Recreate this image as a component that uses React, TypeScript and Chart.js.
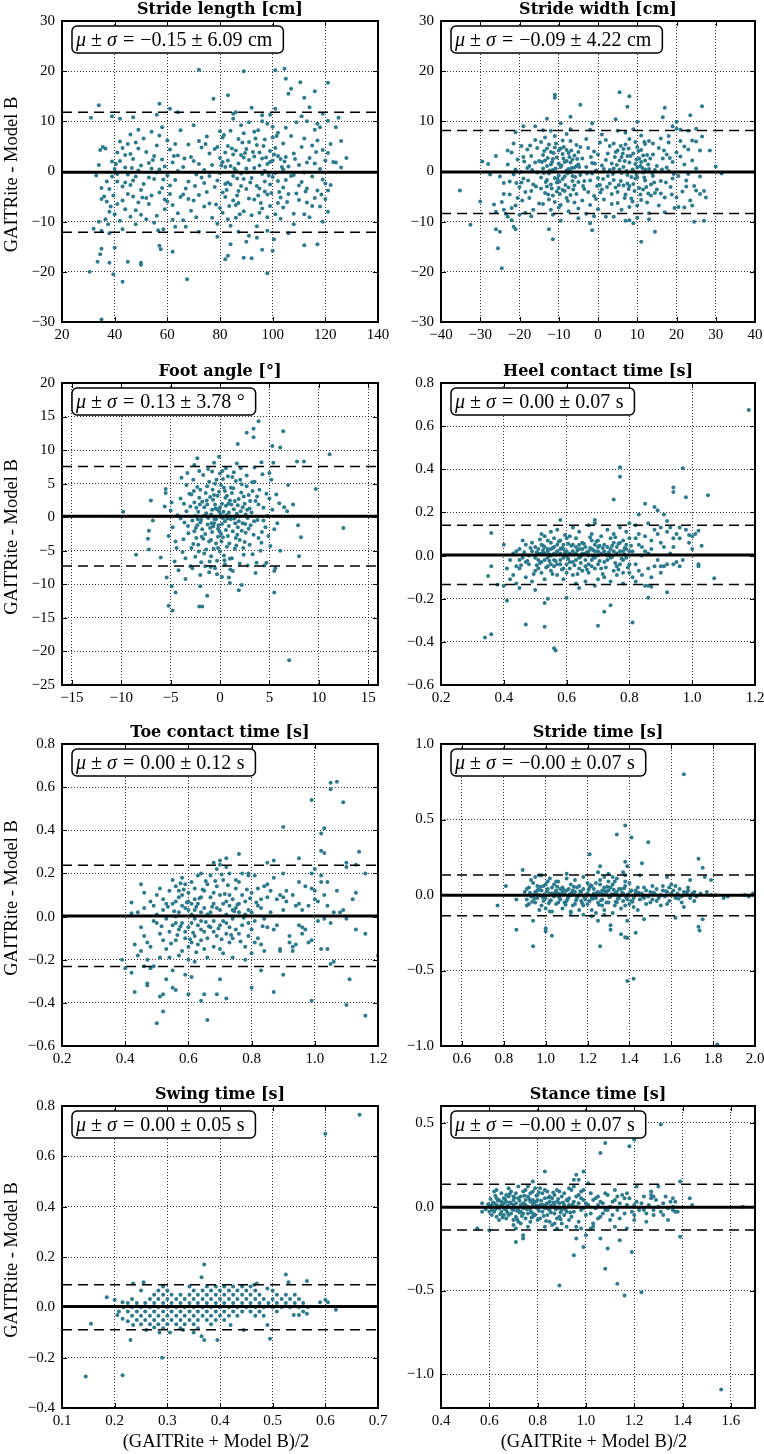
import React, { useEffect, useRef } from "react";
import { Chart, registerables } from "chart.js";
Chart.register(...registerables);

// ---------------- DATA ----------------
const panelTitles = [
  "Stride length [cm]", "Stride width [cm]", "Foot angle [°]", "Heel contact time [s]",
  "Toe contact time [s]", "Stride time [s]", "Swing time [s]", "Stance time [s]",
];
const xMin = [20, -40, -16, 0.2, 0.2, 0.5, 0.1, 0.4];
const xMax = [140, 40, 16, 1.2, 1.2, 2.0, 0.7, 1.7];
const yMin = [-30, -30, -25, -0.6, -0.6, -1.0, -0.4, -1.2];
const yMax = [30, 30, 20, 0.8, 0.8, 1.0, 0.8, 0.6];
const xTickValues = [
  [20, 40, 60, 80, 100, 120, 140],
  [-40, -30, -20, -10, 0, 10, 20, 30, 40],
  [-15, -10, -5, 0, 5, 10, 15],
  [0.2, 0.4, 0.6, 0.8, 1.0, 1.2],
  [0.2, 0.4, 0.6, 0.8, 1.0, 1.2],
  [0.6, 0.8, 1.0, 1.2, 1.4, 1.6, 1.8, 2.0],
  [0.1, 0.2, 0.3, 0.4, 0.5, 0.6, 0.7],
  [0.4, 0.6, 0.8, 1.0, 1.2, 1.4, 1.6],
];
const yTickValues = [
  [-30, -20, -10, 0, 10, 20, 30],
  [-30, -20, -10, 0, 10, 20, 30],
  [-25, -20, -15, -10, -5, 0, 5, 10, 15, 20],
  [-0.6, -0.4, -0.2, 0, 0.2, 0.4, 0.6, 0.8],
  [-0.6, -0.4, -0.2, 0, 0.2, 0.4, 0.6, 0.8],
  [-1.0, -0.5, 0, 0.5, 1.0],
  [-0.4, -0.2, 0, 0.2, 0.4, 0.6, 0.8],
  [-1.0, -0.5, 0, 0.5],
];
const tickDecimals = [0, 0, 0, 1, 1, 1, 1, 1];
const meanDiff = [-0.15, -0.09, 0.13, 0.003, 0.003, -0.002, 0.003, -0.004];
const upperLoA = [11.79, 8.18, 7.54, 0.14, 0.238, 0.132, 0.09, 0.133];
const lowerLoA = [-12.09, -8.36, -7.28, -0.134, -0.232, -0.137, -0.089, -0.139];
const meanLabel = ["−0.15", "−0.09", "0.13", "0.00", "0.00", "−0.00", "0.00", "−0.00"];
const sdLabel = ["6.09", "4.22", "3.78", "0.07", "0.12", "0.07", "0.05", "0.07"];
const unitLabel = ["cm", "cm", "°", "s", "s", "s", "s", "s"];

const strideLengthPts = [
  [72,20.3],[89,20],[101,20.2],[104.5,20.5],[105,18.5],[110.5,17.8],[121,17.7],[107,16.5],[106,15.5],[116,16],[112,14.7],[77.5,14.5],[83,15.2],[34,13.2],[57,13.5],[61,12.5],[31,10.7],[125,10.7],[114,12.8],[92,12.7],[101,12.5],[119,11.5],[86,11.8],[96,11.2],[111,11],[64,11.8],[47,10.8],[39,11],[42,10.5],[56,11.3],[85,11.5],[99,11.3],[121,10.1],[124,8.8],[126,6.1],[128,2.7],[126,0.8],[124,1.8],[117,9.5],[113,10],
  [35,-29.5],[43,-22],[67.5,-21.5],[98,-20.3],[30.5,-20],[39.5,-20.5],[33.5,-18],[38,-18.2],[45,-18],[50,-18.6],[50,-18.2],[34.5,-16.5],[35,-15.4],[40,-15.2],[57,-14.8],[57.5,-15.5],[62,-16],[82,-17.5],[83,-16.8],[89,-17.2],[92,-17.3],[96,-15.6],[100,-15.8],[112,-14.7],[117,-14.5],[84,-14.5],[90,-14],[32,-11.4],[35,-11.8],[38,-12.3],[43,-11.5],[56.5,-11.7],[58.5,-11.5],[72,-12],[79,-13],[91,-12.8],[94,-13.2],[100.5,-13.5],[106,-12.3],[63,-11],[87,-12],[98,-11.8],[108,-10.5],[119,-10],[121,-8],[120,-5.5],
  [33,-0.8],[34,1.3],[34.5,4.3],[35.5,4.9],[36.5,4.6],[35,-3.3],[36,-5],[37,-6],[38,-8],[36.5,-9.5],[37.5,-10.5],[34,-10],[35,-5.5],[37,-2],[38,-3.5],[39,-1],[39,2],[38.5,-7],[39.5,-4.8],[40,-8.5],[40.5,1.5],[41,-2],
  [41,-0.5],[42,2.1],[43,-3],[44,0.8],[45,-4.5],[46,3.5],[47,-1.8],[48,5.8],[49,-6.2],[44,-7.5],[42,-9.8],[46,-9],[48,-10.5],[45,5.5],[47,2.5],[49,0.2],[43,-5.8],[41,-6.5],[44,3.3],[50,-3.7],[49,4.6],[46,-2.7],[42,6],[48,-7.7],[50,1.2],[45,-0.6],[47,-5],[43,4.7],[40,0.5],[41,3.8],[49,8.3],[46,7.4],[44,-2.2],[48,-1],[50,-8.6],
  [51,-2.5],[52,3.9],[53,-6.5],[54,0.6],[55,-1.5],[56,5.2],[57,-4.2],[58,2.4],[59,-7.5],[60,-0.8],[61,4.4],[52,-9.5],[54,-4.8],[56,-8.8],[58,-3.3],[60,-6],[51,6.6],[53,1.7],[55,3.1],[57,7.2],[59,1],[61,-2.8],[62,-9.6],[53,-1.2],[55,-10.2],[58,8.8],[60,6.2],[62,1.8],[52,-5.3],[56,-0.2],[54,7.9],[59,-5.6],[61,-4.5],[57,0.4],
  [63,-1.7],[64,3.2],[65,-5.1],[66,0.9],[67,-3.4],[68,5.4],[69,-7.8],[70,2.1],[71,-0.6],[72,-4.7],[73,4.8],[74,-2.3],[75,7],[76,-6.4],[77,1.3],[64,-8.3],[66,-9.7],[68,-2],[70,-5.8],[72,6.1],[74,0.3],[76,3.6],[78,-3.1],[63,5.5],[65,8.2],[67,-11],[69,2.9],[71,-9.1],[73,-1.2],[75,-4.1],[77,-9.2],[78,4.5],[66,-4.6],[70,9.2],[74,-7],[76,-0.9],[64,0.1],[68,-5.5],[72,1.5],[62,-6.7],
  [79,-1.8],[80,2.7],[81,-4.2],[82,0.9],[83,5.1],[84,-2.6],[85,3.4],[86,-6.7],[87,1.6],[88,-0.4],[89,7.6],[90,-3.5],[91,2.3],[79,4.9],[80,-7.3],[81,6.8],[82,-5.1],[83,-9.5],[84,1.1],[85,-0.9],[86,4.2],[87,-3.9],[88,9.2],[89,-7.9],[90,0.6],[91,5.9],[92,-1.3],[79,-10.4],[81,1.9],[83,-2.2],[85,-5.8],[87,6.5],[89,2.8],[91,-5.4],[80,-0.3],[82,3.8],[84,8.1],[86,0.2],[88,-2.9],[90,4.5],[92,-8.7],[84,-10.8],[86,-9.2],[88,3.3],[80,8],[82,-2.5],[87,-6.3],[89,-1.5],[91,9.8],[85,10.5],[83,2.2],[81,-8.2],
  [93,0.7],[94,-2.9],[95,3.8],[96,-0.5],[97,6.4],[98,-4.6],[99,1.9],[100,-1.1],[101,4.7],[102,-6.3],[103,2.5],[104,-3.2],[105,8.7],[93,-5.6],[94,5.3],[95,-8.2],[96,2.6],[97,-2],[98,9.5],[99,-6.9],[100,6.8],[101,-0.3],[102,3.1],[103,-9.4],[104,0.4],[105,-1.7],[93,7.9],[95,1.2],[97,-4],[99,4.1],[101,-8.5],[103,-5.2],[105,2.9],[94,-10.9],[96,-7.4],[98,1.5],[100,8.9],[102,-1.9],[104,5.6],[106,-4.5],[96,10],[99,-2.6],[102,7.7],[104,-7.2],[100,2.2],[97,0.1],[95,-3.4],[106,1],[93,3],[98,-9.1],
  [107,-0.9],[108,3.6],[109,-4.4],[110,1.3],[111,-2.1],[112,6.6],[113,-6.2],[114,2.7],[115,-1],[116,8.3],[117,-3.8],[118,0.5],[119,4.3],[120,-2.4],[121,3.7],[107,7.1],[108,-8.4],[110,-5.7],[112,-0.2],[114,-9.1],[116,-5.3],[118,-7],[120,2.2],[109,9.8],[111,4.9],[113,1.8],[115,5.2],[117,6.2],[119,-1.6],[122,5.5],[110,-2.8],[113,-3.4],[116,1.6],[108,-0.7],[115,-6.9],[121,-3.8],[123,1.9],[122,-2.7],[118,8.8],[112,-8.5],
  [80.5,1.2],[82.5,-3.7],[84.5,4.6],[86.5,-1.4],[88.5,5.8],[90.5,-0.2],[92.5,3.9],[94.5,-4.8],[96.5,5.1],[98.5,-0.8],[100.5,3.4],[102.5,-4.1],[104.5,2],[81.5,7.3],[83.5,-6.9],[85.5,0.6],[87.5,-8.5],[89.5,3.7],[91.5,-2.2],[93.5,6.6],[95.5,-6.3],[97.5,2.8],[99.5,-4.3],[101.5,7.1],[103.5,0.9],[105.5,-6.1],[66.5,2.6],[70.5,-2.9],[74.5,5.5],[58.5,-1.6],[62.5,3.1],[46.5,0.7],[50.5,-5.2],[54.5,2.3],[78.5,-6.6],[108.5,2.5],[112.5,-4],[116.5,3.9],[118.5,-4.6],[86.5,-4.8],[94.5,8.2],
];

const strideWidthPts = [
  [-35.2,-3.8],[-32.5,-10.6],[-29.5,2],[-28,1.5],[-30,-6],[-27.5,-0.6],[-26.5,-6.6],[-26,-11.5],[-25,-12],[-25.5,-15.3],[-24.5,-19.3],[-21.5,-11],[-21,-11.5],[-23,-9],[-12.5,-11.5],[-11.5,-13.5],[-11,15.3],[-11,14.7],[-4.5,13.3],[5.5,15.8],[8,15],[7.5,12.9],[-7,10.9],[-13,10.5],[4.5,10.4],[10,9.9],[16.5,10.8],[17,12.7],[20,9.9],[20,8.5],[23.5,11.2],[26.5,13],[26.5,7],[30,1],[31.5,-0.4],[27.5,-5.2],[24.5,-10],[27,-9.8],[14.5,-12],[11,-14],[9,-10.3],[8,-9.7],[-1.5,-11.7],[-2,-10.3],[-19,9],[-21,7.8],[-1.5,9.6],[-16,9],[-9.5,-9.8],[-5,-9.3],[4,-9],[13,-9.5],[22.5,-3],[28.5,4.2],[25,6],[-22,-9.7],[-24,-7.6],
  [-24,-2.3],[-23,1.4],[-22.5,-4.6],[-22,3.8],[-21.5,-0.6],[-21,-6.8],[-20.5,2.4],[-20,-3.1],[-19.5,5.1],[-19,-1.4],[-18.5,-8.2],[-18,0.7],[-17.5,-5.3],[-17,3.1],[-16.5,-2.6],[-16,6.3],[-15.5,-0.2],[-15,-6.4],[-24.5,-6.1],[-23.5,-8.4],[-22,-7.3],[-20,-8.6],[-18,4.4],[-17,-3.9],[-16,1.8],[-19,2.9],[-21,0.4],[-23,4.2],[-25,-1],[-26,3.1],[-15.5,4.7],[-16.5,-7.6],[-18.5,-4.1],[-20.5,-5.3],[-22.5,-2],[-17.5,1.1],[-19.5,-2.2],[-21.5,5.6],[-15,2.1],[-17,-8.9],[-24,-4.5],[-26,-8],
  [-14.5,-1.2],[-14,3.3],[-13.5,-4.3],[-13,1.1],[-12.5,5.4],[-12,-2.6],[-11.5,0.3],[-11,-6.1],[-10.5,2.8],[-10,-0.8],[-9.5,4.6],[-9,-3.7],[-8.5,1.9],[-8,-5.3],[-7.5,0.5],[-7,6.1],[-6.5,-1.9],[-6,3.2],[-5.5,-4.5],[-5,1.4],[-14.5,5.9],[-14,-6.5],[-13.5,2.2],[-13,-3],[-12.5,-0.4],[-12,3.9],[-11.5,-4.8],[-11,7.1],[-10.5,-2.2],[-10,1.6],[-9.5,-6.7],[-9,3.5],[-8.5,-1],[-8,4.3],[-7.5,-3.2],[-7,-0.1],[-6.5,2.4],[-6,-6.2],[-5.5,5.3],[-5,-2.1],[-14,0.6],[-13,-1.7],[-12,1.4],[-11,-1.3],[-10,4.2],[-9,-1.5],[-8,2.1],[-7,-4.7],[-6,0.8],[-5,3.9],[-13.5,6.8],[-12.5,-5.6],[-11.5,2.5],[-10.5,-4],[-9.5,0.9],[-8.5,-3.9],[-7.5,3.7],[-6.5,-0.9],[-5.5,1.1],[-14.5,-3.4],[-13,4.6],[-11,4.8],[-10,-3.3],[-8,0.2],[-7,1.8],[-6,-2.8],[-12,-7.6],[-9,6.2],[-10,-7.2],[-7,8.4],[-8,7.5],[-14,8.2],[-12,8.1],[-9.5,9.6],[-5,-7.4],[-7.5,-7.9],[-11.5,-8.6],
  [-4.5,-0.7],[-4,2.6],[-3.5,-3.5],[-3,0.9],[-2.5,4.7],[-2,-1.8],[-1.5,1.7],[-1,-4.9],[-0.5,0.2],[0,3.4],[0.5,-2.7],[1,1.2],[1.5,-5.6],[2,2.3],[2.5,-0.9],[3,5.1],[-4,-5.8],[-3,6.5],[-2,-6.7],[-1,4],[0,-1.3],[1,-3.6],[2,6.3],[3,-2.4],[-4.5,4.9],[-3.5,-1.9],[-2.5,-4.1],[-1.5,-0.4],[-0.5,-5.5],[0.5,5.8],[1.5,0.5],[2.5,3.6],[-3,-8.4],[-1,-8.9],[0,-7.5],[2,-9],[-2,8.3],[1,7.4],[3.5,-4.5],[3,0.3],
  [3.5,1.6],[4,-1.7],[4.5,3.9],[5,-4.1],[5.5,0.4],[6,2.9],[6.5,-2.8],[7,5.4],[7.5,-0.7],[8,1.8],[8.5,-5.4],[9,3.6],[9.5,-1.4],[10,0.8],[10.5,-3.3],[11,4.3],[11.5,-0.2],[12,2.2],[12.5,-6.2],[13,0.5],[13.5,-2.6],[14,3.4],[14.5,-4.3],[15,1.1],[4,5.6],[5,-6.3],[6,-0.3],[7,-4.6],[8,6.5],[9,-2.5],[10,4.9],[11,-5.7],[12,-1.8],[13,6.1],[14,-0.9],[4.5,-3.2],[5.5,2.2],[6.5,0.9],[7.5,3.1],[8.5,-1.1],[9.5,1.5],[10.5,2.6],[11.5,-3.6],[12.5,3.3],[13.5,-4.8],[14.5,0.3],[6,-7.6],[8,-7.1],[10,-6.8],[12,5.5],[7,7.7],[9,8.4],[11,7.2],[13,-8.3],[5,8.1],[10,-9.2],[7,-9.8],[15,-3.6],[3.5,-6.5],[8,-2.9],[9,0.1],[10,-1.2],[6.5,4.5],[11,1.9],[12,0.4],[14,5.6],[7.5,-2.4],[9.5,5.9],[11.5,3.2],[5,4.2],[4,0.6],
  [15.5,4.7],[16,-1.9],[16.5,2.6],[17,-5.2],[17.5,0.8],[18,5.8],[18.5,-3.1],[19,1.9],[19.5,-7.3],[20,3.8],[20.5,-0.9],[21,6.1],[21.5,-4],[22,1.4],[22.5,-1.8],[23,4.4],[23.5,-5.8],[24,2.2],[24.5,-2.9],[25,0.6],[26,4.2],[16,6.6],[17,-8.1],[18,0.1],[19,-1.4],[20,-5.2],[21,3],[22,-7.2],[23,-0.5],[25,-3.8],[26,-1],[24,6.2],[25,8.5],[21,8.3],[18,7.1],[16,-4.4],[22,5],[19,9],[15.5,-6.8],[17.5,3.4],[20.5,-7.1],[23,8.1],[24,-6.8],[26,-4.5],[27,-3.9],
  [-13.8,-0.3],[-12.8,2.7],[-11.8,-3.4],[-10.8,0.6],[-9.8,-2],[-8.8,2.6],[-7.8,-0.4],[-6.8,4.2],[-5.8,-1.1],[-4.8,0.9],[-13.3,-2.1],[-12.3,0.2],[-11.3,3.7],[-10.3,-1.5],[-9.3,1.2],[-8.3,-2.7],[-7.3,2.9],[-6.3,-3.6],[-5.3,2.5],[-14.3,1.9],[-13.7,4.1],[-12.7,-4.6],[-11.7,1.9],[-10.7,5.6],[-9.7,-4.5],[-8.7,4.9],[-7.7,-5.9],[-6.7,0.7],[-15.8,-3],[-16.8,0.3],[-17.8,-1.8],[-18.8,2],[-19.8,-0.1],[-20.8,-2.3],[-17.3,5.2],[-19.3,-5.8],
  [3.8,-0.5],[4.8,1.3],[5.8,-1.9],[6.8,2.1],[7.8,-3.5],[8.8,0.4],[9.8,-0.6],[10.8,1.1],[11.8,-1.2],[12.8,1.4],[13.8,-0.3],[4.3,2.9],[5.3,-2.7],[6.3,3.6],[7.3,0.1],[8.3,3.1],[9.3,-3.9],[10.3,4.1],[11.3,0.7],[12.3,-3.1],[13.3,2.6],[14.3,-2.2],[5.8,5.1],[7.8,4.6],[9.8,2.4],[11.8,5.9],[6.8,-5.3],[8.8,-6],[10.8,-4.6],[12.8,-4.4],[16.3,0.4],[17.3,-2.2],[18.3,2.7],[19.3,-0.5],[16.8,4.2],[18.8,-4.6],[-2.8,-0.4],[-0.8,1.6],[1.3,-1.5],[-1.8,2.9],[0.6,-4.2],[2.3,-3.1],[-3.8,-2.9],[-0.2,-2.9],
];

const footAnglePts = [
  [-9.8,0.8],[-7,2.5],[-6.8,-0.5],[-7.2,-2],[-7.3,-3.2],[-8.5,-5.6],[-7.2,-4.8],[-5.5,4.2],[-5.5,3.6],[-5.2,-13.2],[-4.8,-13.9],[-4.9,-10.3],[-4.5,-11.2],[-5.4,-9],[-2.1,-13.3],[-1.8,-13.3],[-1.3,-11.7],[-2,-10.3],[1.9,-10.9],[2.2,-10.1],[1,-9.8],[7,-21.3],[5.5,-11.2],[5.5,-8],[5.6,-7.6],[8,-5.8],[8.2,-3],[7.9,-1.2],[12.5,-1.6],[9.7,4.2],[11.1,9.4],[7.8,8.3],[8.5,8.3],[6.1,10.4],[6.4,12.8],[5.3,10.6],[3.9,14.3],[3.4,13.2],[2.7,12.6],[3.4,11.9],[1.8,10.9],[5.4,8.1],[6.9,4.8],[7.4,1.9],[6.5,1.5],[6.8,0.9],[6.1,-5],[-2.3,8.8],[-0.1,9],[0.9,-9],[-3.5,-9.2],[4.7,-6.8],[-6,-6],[5,6.6],
  [-5,1],[-4.8,-1.5],[-4.5,-3.6],[-4.3,0.3],[-4,2.8],[-3.8,-5.2],[-3.6,-0.8],[-3.4,4.8],[-3.2,-2.4],[-3,1.6],[-4.6,-6.6],[-4.2,-7.9],[-3.9,5.9],[-3.5,-6.1],[-3.1,3.5],[-5.2,-2.8],[-4.4,-4.6],[-3.7,-3.3],[-3.3,6.6],[-3,-7.3],[-5.6,1.6],[-4.9,2.2],[-4,-0.2],[-3.4,0.9],[-2.9,-4.6],
  [-2.8,-0.5],[-2.6,2.2],[-2.4,-3.1],[-2.2,0.8],[-2,4.1],[-1.8,-1.8],[-1.6,1.5],[-1.4,-4.8],[-1.2,-0.1],[-1,3],[-2.7,5.6],[-2.5,-5.9],[-2.3,-1.2],[-2.1,2.9],[-1.9,-6.7],[-1.7,6.3],[-1.5,-2.5],[-1.3,4.6],[-1.1,-3.6],[-2.9,3.4],[-2.6,-2.1],[-2.4,1.4],[-2.2,-4.1],[-2,-0.8],[-1.8,2.3],[-1.6,-5.4],[-1.4,0.6],[-1.2,7.2],[-1,-1.6],[-2.8,-7.6],[-2.1,6.9],[-1.5,-7.3],[-1.1,5.3],[-2.5,0.2],[-1.7,-3.2],[-1.3,1.9],[-2.3,4.5],[-1.9,-0.4],[-2.7,-4],[-1.1,-8.2],[-2,-8.6],[-2.6,7.8],
  [-0.9,0.4],[-0.8,-2.2],[-0.7,2.6],[-0.6,-0.9],[-0.5,5],[-0.4,-3.9],[-0.3,1.2],[-0.2,-1.7],[-0.1,3.8],[0,-5.1],[0.1,0.1],[0.2,2],[0.3,-3],[0.4,4.4],[0.5,-0.6],[0.6,1.7],[0.7,-4.4],[0.8,6.1],[0.9,-1.3],[1,2.5],[-0.9,-5.8],[-0.7,-1.4],[-0.5,1.9],[-0.3,-6.5],[-0.1,0.9],[0.1,-2.5],[0.3,5.7],[0.5,-7],[0.7,3.2],[0.9,0.7],[-0.8,6.8],[-0.6,3.3],[-0.4,-0.3],[-0.2,-4.6],[0,1.5],[0.2,-1],[0.4,-5.7],[0.6,7.3],[0.8,-2.8],[-0.9,-3.4],[-0.5,-7.6],[0,6.5],[0.5,3.9],[1,-6.2],[-0.3,-8.5],[0.2,-8.9],[-0.6,8.1],[0.1,4.8],[-0.2,-2.9],[0.6,-1.9],[-0.8,1.1],[0.3,-0.1],
  [1.1,-0.3],[1.2,3.6],[1.3,-2.1],[1.4,1.2],[1.5,-4.7],[1.6,5.4],[1.7,0.5],[1.8,-1.5],[1.9,2.7],[2,-3.4],[2.1,0.9],[2.2,4.9],[2.3,-0.9],[2.4,-5.6],[2.5,2],[2.6,-2.3],[2.7,6.2],[2.8,-0.1],[2.9,3.3],[3,-4.1],[1.2,-6.1],[1.4,6.7],[1.6,-3.1],[1.8,1.8],[2,-6.9],[2.2,-2],[2.4,3.1],[2.6,0.4],[2.8,-7.2],[3,1.3],[1.3,-8],[1.7,8],[2.1,7.3],[2.5,-3.7],[2.9,-1.7],[1.5,2.4],[1.9,-0.6],[2.3,1.5],[1.1,4.4],[2.7,4.6],
  [3.2,0.7],[3.4,-2.6],[3.6,2.4],[3.8,-0.4],[4,4.1],[4.2,-3.8],[4.4,1.4],[4.6,-1.5],[4.8,0.2],[5,2.8],[3.3,-5.5],[3.5,5.3],[3.7,-6.8],[3.9,1.9],[4.1,-5],[4.3,6.4],[4.5,-7.2],[4.7,3.5],[4.9,-2.8],[3.1,-1.2],[3.3,3.9],[3.5,7.4],[3.9,-3.1],[4.4,-0.5],[5.1,-4.3],[5.3,1.1],[5.5,-1.8],[5.7,3.4],[5.2,5.6],[3.6,-8.3],[4.2,8.2],[5.8,-0.9],[6,2.1],
  [-0.85,-0.9],[-0.45,1.3],[-0.05,-2.1],[0.35,0.8],[0.75,-0.2],[1.15,1.9],[1.55,-0.9],[1.95,0.1],[-1.25,-1.1],[-1.65,0.2],[-2.05,1.9],[-2.45,-1.6],[-0.65,-4.7],[-0.25,3.2],[0.15,-3.6],[0.55,2.9],[0.95,-3.9],[1.35,4.3],[1.75,-2.6],[2.15,3.7],[2.55,-1],[-1.45,3.6],[-1.85,-2.9],[-2.25,-0.3],[-0.35,5.6],[0.45,-6.4],[1.25,6],[-1.05,-6.6],[2.35,-4.6],[-2.65,3.9],[3.05,2.4],[3.45,-0.6],[2.75,1.1],[0.05,0.4],[-0.55,-0.3],[0.65,0.3],[1.45,-0.2],[-0.15,-1.2],[0.85,2],[-1.35,2.5],[1.65,-4.2],[-0.75,4.1],[2.05,5.6],[0.25,6.9],[-0.95,-7.4],[1.05,-7.8],[3.25,5.2],[-3.25,-1.3],[-3.65,2],[4.25,-2.2],[3.75,3.1],[-2.15,-5.1],
];

const heelContactPts = [
  [1.18,0.675],[0.77,0.41],[0.77,0.365],[0.75,0.26],[0.97,0.405],[0.94,0.315],[0.94,0.295],[1.05,0.28],[0.98,0.27],[0.85,0.24],[0.88,0.225],[0.89,0.21],[0.91,0.19],[0.92,0.16],[0.83,0.19],[0.58,0.165],[0.69,0.165],[0.36,0.105],[0.4,0.05],[0.36,-0.05],[0.35,-0.095],[0.34,-0.38],[0.36,-0.365],[0.41,-0.21],[0.4,-0.14],[0.38,-0.135],[0.47,-0.32],[0.53,-0.33],[0.56,-0.43],[0.565,-0.44],[0.53,-0.22],[0.54,-0.2],[0.6,-0.195],[0.7,-0.325],[0.72,-0.26],[0.74,-0.23],[0.81,-0.31],[0.86,-0.195],[0.86,-0.14],[0.87,-0.145],[0.92,-0.17],[1.07,-0.105],[1.02,-0.05],[1.02,-0.04],[0.94,-0.04],[1.03,0.045],[1.02,0.115],[1.01,0.1],[0.99,0.095],[0.45,-0.15],[0.5,-0.16],[0.64,-0.15],[0.69,-0.14],[0.78,-0.08],[0.82,-0.12],[0.9,-0.05],[0.96,-0.05],[1.0,0.03],
  [0.42,-0.02],[0.43,0.01],[0.44,-0.05],[0.45,0.03],[0.46,-0.01],[0.47,0.05],[0.48,-0.04],[0.49,0.02],[0.5,-0.07],[0.43,-0.09],[0.45,-0.06],[0.47,-0.03],[0.49,0.06],[0.46,0.07],[0.44,0.02],[0.48,0],[0.5,0.04],[0.42,-0.11],[0.44,-0.13],[0.47,-0.1],[0.49,-0.12],[0.41,-0.06],[0.45,-0.02],[0.5,-0.01],
  [0.51,0.01],[0.52,-0.03],[0.53,0.04],[0.54,-0.01],[0.55,0.06],[0.56,-0.05],[0.57,0.02],[0.58,-0.02],[0.59,0.05],[0.6,-0.04],[0.51,-0.06],[0.52,0.05],[0.53,-0.02],[0.54,0.03],[0.55,-0.07],[0.56,0.01],[0.57,-0.04],[0.58,0.07],[0.59,-0.01],[0.6,0.02],[0.51,0.03],[0.52,-0.08],[0.53,0.09],[0.54,-0.05],[0.55,0],[0.56,0.04],[0.57,-0.09],[0.58,0.03],[0.59,-0.06],[0.6,0.08],[0.52,0.01],[0.54,0.07],[0.56,-0.02],[0.58,-0.04],[0.6,0],[0.53,-0.11],[0.55,0.11],[0.57,0.12],[0.59,-0.11],[0.51,-0.02],[0.55,-0.04],[0.57,0.05],[0.53,0.01],[0.6,-0.08],[0.58,0.01],[0.56,0.08],[0.52,0.1],[0.55,0.03],[0.54,0.02],[0.59,0.03],
  [0.61,0.01],[0.62,-0.03],[0.63,0.04],[0.64,-0.01],[0.65,0.06],[0.66,-0.05],[0.67,0.02],[0.68,-0.02],[0.69,0.05],[0.7,-0.04],[0.61,-0.06],[0.62,0.05],[0.63,-0.02],[0.64,0.03],[0.65,-0.07],[0.66,0.01],[0.67,-0.04],[0.68,0.07],[0.69,-0.01],[0.7,0.02],[0.61,0.09],[0.62,-0.09],[0.63,0.08],[0.64,-0.06],[0.65,0.01],[0.66,0.04],[0.67,-0.08],[0.68,0.03],[0.69,-0.06],[0.7,0.07],[0.62,0.13],[0.64,0.11],[0.66,-0.12],[0.68,0.1],[0.7,-0.11],[0.63,-0.13],[0.67,0.14],[0.69,0.15],[0.61,-0.03],[0.65,0.03],[0.67,0],[0.63,0.01],[0.69,0.02],[0.66,-0.02],[0.64,0.05],[0.68,-0.05],[0.62,0.02],[0.7,0],
  [0.71,0.01],[0.72,-0.03],[0.73,0.04],[0.74,-0.01],[0.75,0.06],[0.76,-0.05],[0.77,0.02],[0.78,-0.02],[0.79,0.05],[0.8,-0.04],[0.71,-0.06],[0.72,0.05],[0.73,-0.02],[0.74,0.03],[0.75,-0.07],[0.76,0.01],[0.77,-0.04],[0.78,0.07],[0.79,-0.01],[0.8,0.02],[0.71,0.09],[0.73,0.12],[0.75,0.1],[0.77,0.13],[0.79,0.11],[0.72,-0.1],[0.74,-0.12],[0.76,-0.09],[0.78,-0.13],[0.8,0.08],[0.8,-0.08],[0.74,0.08],[0.76,0.04],[0.78,0.02],[0.72,0.02],[0.7,0.04],[0.79,0.03],[0.73,0],[0.77,0.06],[0.75,0.02],
  [0.81,0.02],[0.82,-0.04],[0.83,0.05],[0.84,0],[0.85,0.09],[0.86,-0.06],[0.87,0.03],[0.88,0.12],[0.89,-0.02],[0.9,0.06],[0.91,-0.05],[0.92,0.11],[0.93,0.01],[0.94,0.08],[0.95,-0.03],[0.82,0.14],[0.84,-0.09],[0.86,0.15],[0.88,-0.05],[0.9,0.13],[0.83,-0.07],[0.85,0.02],[0.87,0.07],[0.89,0.1],[0.91,0.04],[0.93,0.13],[0.95,0.1],[0.81,-0.1],[0.84,0.04],[0.86,0.01],[0.9,-0.08],[0.92,-0.04],[0.94,0.04],[0.96,0.08],[0.97,-0.02],[0.98,0.12],[0.99,0.06],[1,0.09],[0.96,0.13],[0.83,0.1],[0.87,-0.1],[0.85,-0.14],[0.8,0.15],[0.82,0.08],
  [0.505,0.015],[0.515,-0.035],[0.525,0.045],[0.535,-0.055],[0.545,0.005],[0.555,0.035],[0.565,-0.025],[0.575,0.065],[0.585,-0.065],[0.595,0.015],[0.605,-0.015],[0.615,0.045],[0.625,-0.045],[0.635,0.025],[0.645,-0.035],[0.655,0.055],[0.665,-0.065],[0.675,0.035],[0.685,-0.005],[0.695,0.065],[0.705,-0.025],[0.715,0.035],[0.725,-0.055],[0.735,0.015],[0.745,0.045],[0.755,-0.035],[0.765,0.055],[0.775,-0.015],[0.785,0.035],[0.795,-0.055],[0.805,0.045],[0.485,0.035],[0.475,-0.025],[0.465,0.015],[0.455,-0.045],[0.505,-0.045],[0.545,-0.025],[0.585,0.035],[0.625,0.005],[0.665,0.015],[0.705,0.045],[0.745,-0.005],[0.785,0.005],[0.525,0.025],[0.565,0.005],[0.605,0.055],[0.645,-0.005],[0.685,0.025],[0.725,0.005],[0.765,-0.065],[0.515,0.075],[0.555,-0.085],[0.595,0.095],[0.635,-0.085],[0.675,0.085],[0.715,-0.085],[0.755,0.085],[0.495,-0.085],
];

const toeContactPts = [
  [1.07,0.625],[1.05,0.62],[1.05,0.59],[0.99,0.54],[1.09,0.53],[0.9,0.415],[1.03,0.41],[1.02,0.385],[1.02,0.305],[1.03,0.295],[1.14,0.3],[0.76,0.29],[0.72,0.27],[0.7,0.26],[0.87,0.26],[0.85,0.25],[0.95,0.27],[1.1,0.25],[1.13,0.24],[1.16,0.2],[1.1,0.23],[0.45,0.15],[0.46,0.11],[0.42,0.065],[0.42,0.015],[0.39,-0.2],[0.4,-0.24],[0.42,-0.26],[0.43,-0.35],[0.47,-0.31],[0.47,-0.32],[0.5,-0.495],[0.52,-0.44],[0.52,-0.36],[0.51,-0.37],[0.55,-0.33],[0.56,-0.34],[0.6,-0.36],[0.61,-0.28],[0.64,-0.39],[0.65,-0.36],[0.66,-0.48],[0.69,-0.36],[0.72,-0.38],[0.7,-0.29],[0.8,-0.33],[0.83,-0.25],[0.87,-0.35],[0.9,-0.27],[0.99,-0.39],[1.1,-0.41],[1.11,-0.29],[1.16,-0.46],[1.2,-0.18],[1.05,-0.22],[1.06,-0.21],[1.13,-0.06],[1.16,-0.08],[1.02,-0.15],[1.04,-0.15],[0.99,-0.11],[0.89,-0.15],[0.93,-0.14],[0.96,-0.05],[0.59,-0.27],[0.55,-0.25],[0.53,-0.29],[0.46,-0.23],[0.79,0.2],[0.68,0.25],
  [0.44,0.02],[0.45,-0.05],[0.46,0.04],[0.47,-0.12],[0.48,0.07],[0.49,-0.02],[0.5,0.1],[0.51,-0.08],[0.52,0.03],[0.53,-0.15],[0.54,0.12],[0.55,-0.04],[0.45,-0.16],[0.47,-0.2],[0.49,-0.23],[0.51,0.13],[0.53,0.06],[0.55,0.17],[0.46,-0.09],[0.48,-0.14],[0.5,-0.03],[0.52,-0.11],[0.54,-0.07],[0.43,-0.13],[0.5,0.01],[0.52,0.08],[0.54,-0.19],[0.49,0.05],[0.53,-0.01],[0.55,0.06],[0.48,-0.24],[0.51,-0.19],[0.44,-0.18],
  [0.56,0],[0.57,-0.06],[0.58,0.05],[0.59,-0.1],[0.6,0.11],[0.61,-0.03],[0.62,0.08],[0.63,-0.13],[0.64,0.02],[0.65,-0.07],[0.56,0.14],[0.57,0.09],[0.58,-0.16],[0.59,0.04],[0.6,-0.05],[0.61,0.16],[0.62,-0.09],[0.63,0.06],[0.64,-0.02],[0.65,0.12],[0.56,-0.11],[0.57,0.02],[0.58,-0.03],[0.59,0.15],[0.6,-0.14],[0.61,0.06],[0.62,-0.01],[0.63,0.19],[0.64,-0.11],[0.65,0.04],[0.56,0.07],[0.58,0.1],[0.6,0.03],[0.62,0.13],[0.64,0.09],[0.57,-0.18],[0.59,-0.07],[0.61,-0.12],[0.63,-0.04],[0.65,-0.15],[0.6,-0.2],[0.62,-0.21],[0.58,0.18],[0.64,0.2],[0.56,-0.03],[0.6,0.07],[0.62,0.03],[0.64,-0.06],[0.57,0.12],[0.61,0.01],
  [0.66,0.01],[0.67,-0.05],[0.68,0.06],[0.69,-0.09],[0.7,0.1],[0.71,-0.02],[0.72,0.07],[0.73,-0.12],[0.74,0.03],[0.75,-0.06],[0.66,0.15],[0.67,0.09],[0.68,-0.14],[0.69,0.04],[0.7,-0.04],[0.71,0.17],[0.72,-0.08],[0.73,0.05],[0.74,-0.01],[0.75,0.13],[0.66,-0.1],[0.67,0.02],[0.68,-0.02],[0.69,0.14],[0.7,-0.15],[0.71,0.06],[0.72,0.01],[0.73,0.2],[0.74,-0.1],[0.75,0.04],[0.67,0.19],[0.69,0.22],[0.71,-0.17],[0.73,0.1],[0.75,0.17],[0.66,-0.19],[0.68,0.11],[0.7,0.03],[0.72,-0.03],[0.74,0.08],[0.7,0.24],[0.72,0.23],[0.74,-0.19],[0.68,-0.07],[0.73,-0.05],
  [0.76,0.02],[0.77,-0.04],[0.78,0.07],[0.79,-0.09],[0.8,0.11],[0.81,-0.02],[0.82,0.05],[0.83,-0.13],[0.84,0.14],[0.85,-0.05],[0.76,0.16],[0.77,0.1],[0.78,-0.14],[0.79,0.03],[0.8,-0.06],[0.81,0.19],[0.82,-0.1],[0.83,0.04],[0.84,-0.01],[0.85,0.09],[0.76,-0.08],[0.78,0.01],[0.8,0.02],[0.82,0.13],[0.84,-0.16],[0.77,0.2],[0.79,0.19],[0.81,-0.12],[0.83,0.08],[0.85,0.15],[0.78,-0.2],[0.8,-0.17],[0.76,0.06],[0.79,-0.03],
  [0.86,0.02],[0.87,-0.06],[0.88,0.08],[0.89,-0.16],[0.9,0.03],[0.91,0.12],[0.92,-0.09],[0.93,0.1],[0.94,0.05],[0.95,-0.04],[0.96,0.03],[0.97,0.14],[0.98,-0.12],[0.99,0.13],[1,0.08],[1.01,-0.02],[1.02,0.19],[1.03,0.1],[1.04,0.16],[1.05,-0.03],[1.07,0.12],[1.08,0.02],[1.1,-0.01],[1.13,0.11],[0.86,0.12],[0.88,-0.04],[0.9,0.09],[0.92,-0.12],[0.94,-0.13],[0.96,-0.08],[0.98,0.05],[1,0.12],[1.02,0.16],[1.04,0.05],[1.06,0.02],[0.87,0.18],[0.89,0.1],[0.91,0.07],[0.93,-0.16],[0.95,0.06],[0.97,-0.06],[0.99,0.2],[1.01,0.07],[1.03,-0.01],[1.09,0.03],[1.12,0.08],[1,0.22],[0.95,0.16],[0.9,0.2],
  [0.555,0.025],[0.575,-0.045],[0.595,0.065],[0.615,-0.075],[0.635,0.085],[0.655,-0.025],[0.675,0.045],[0.695,-0.055],[0.715,0.105],[0.735,-0.085],[0.755,0.055],[0.775,-0.005],[0.795,0.085],[0.535,0.045],[0.515,-0.045],[0.565,-0.085],[0.585,0.125],[0.605,-0.105],[0.625,0.045],[0.645,0.125],[0.665,-0.045],[0.685,0.165],[0.705,-0.105],[0.725,0.145],[0.745,0.025],[0.765,-0.115],[0.785,0.125],[0.815,0.065],[0.835,-0.045],[0.545,-0.125],[0.625,-0.165],[0.705,0.195],[0.655,0.165],[0.575,0.155],
];

const strideTimePts = [
  [1.66,0.8],[1.38,0.46],[1.34,0.4],[1.41,0.38],[1.49,0.35],[1.21,0.27],[1.73,0.24],[1.38,0.22],[1.46,0.21],[1.39,0.19],[1.26,0.19],[1.75,0.18],[0.89,0.165],[1.37,0.15],[1.38,0.13],[1.25,0.15],[1.28,0.12],[1.45,0.13],[1.58,0.12],[1.76,0.12],[1.79,0.1],[1.69,0.1],[0.81,0.06],[0.77,-0.07],[0.86,-0.03],[0.86,-0.23],[0.94,-0.17],[0.94,-0.34],[1,-0.24],[1,-0.22],[1.03,-0.27],[1.18,-0.13],[1.25,-0.17],[1.26,-0.34],[1.31,-0.2],[1.31,-0.23],[1.36,-0.26],[1.38,-0.28],[1.39,-0.285],[1.39,-0.17],[1.43,-0.25],[1.39,-0.57],[1.42,-0.555],[1.73,-0.21],[1.735,-0.235],[1.75,-0.16],[1.82,-0.99],[1.47,-0.16],[1.62,-0.15],[1.66,-0.08],[1.85,-0.02],[1.87,-0.01],[1.95,0],[1.99,0.01],[1.81,0],[1.97,-0.01],[1.02,-0.11],[1.12,-0.12],[1.22,-0.14],[1.28,-0.13],[1.33,0.09],[1.1,0.14],[0.97,0.13],
  [0.9,0.02],[0.91,-0.03],[0.92,0.05],[0.93,-0.01],[0.94,0.08],[0.95,-0.05],[0.96,0.03],[0.97,0],[0.98,-0.07],[0.99,0.06],[1,-0.02],[1.01,0.04],[1.02,-0.04],[1.03,0.01],[1.04,0.07],[1.05,-0.06],[0.91,0.04],[0.93,0.1],[0.95,0.12],[0.97,-0.1],[0.99,-0.04],[1.01,0.09],[1.03,-0.11],[1.05,0.03],[0.92,-0.06],[0.94,0],[0.96,-0.02],[0.98,0.03],[1,0.07],[1.02,0.01],[1.04,-0.01],[0.96,0.06],[1,-0.09],[1.02,0.11],[0.98,0.13],[0.95,0.02],[1.03,0.05],[0.91,-0.07],[1.05,0.09],
  [1.06,0.01],[1.07,-0.03],[1.08,0.05],[1.09,-0.05],[1.1,0.03],[1.11,-0.01],[1.12,0.07],[1.13,-0.07],[1.14,0.02],[1.15,-0.02],[1.16,0.06],[1.17,-0.04],[1.18,0.04],[1.19,0],[1.2,-0.06],[1.21,0.05],[1.22,-0.02],[1.23,0.01],[1.24,0.08],[1.25,-0.05],[1.06,0.09],[1.08,-0.09],[1.1,0.11],[1.12,-0.11],[1.14,0.1],[1.16,-0.1],[1.18,0.12],[1.2,0.08],[1.22,-0.1],[1.24,-0.12],[1.07,0.04],[1.09,0.01],[1.11,0.04],[1.13,0.03],[1.15,0.05],[1.17,0.02],[1.19,-0.03],[1.21,-0.04],[1.23,0.04],[1.25,0.02],[1.06,-0.05],[1.1,-0.04],[1.14,-0.06],[1.18,-0.07],[1.22,0.06],[1.12,0],[1.16,0],[1.2,0.01],[1.08,0.02],[1.24,-0.02],
  [1.26,0.01],[1.27,-0.03],[1.28,0.05],[1.29,-0.05],[1.3,0.03],[1.31,-0.01],[1.32,0.07],[1.33,-0.07],[1.34,0.02],[1.35,-0.02],[1.36,0.04],[1.37,-0.04],[1.38,0.06],[1.39,0],[1.4,-0.06],[1.41,0.03],[1.42,-0.02],[1.43,0.01],[1.44,0.05],[1.45,-0.03],[1.26,0.1],[1.28,-0.1],[1.3,0.09],[1.32,-0.12],[1.34,0.11],[1.36,-0.09],[1.38,0.09],[1.4,0.08],[1.42,-0.08],[1.44,-0.1],[1.27,0.03],[1.29,0.02],[1.31,0.05],[1.33,0.01],[1.35,0.04],[1.37,0.01],[1.39,-0.03],[1.41,-0.04],[1.43,0.03],[1.27,-0.07],[1.3,-0.05],[1.34,-0.05],[1.38,-0.07],[1.26,0.07],[1.3,0.14],[1.32,0.12],
  [1.46,0.01],[1.47,-0.02],[1.48,0.03],[1.49,-0.01],[1.5,0.02],[1.51,-0.03],[1.52,0.01],[1.53,0.04],[1.54,-0.02],[1.55,0],[1.56,0.03],[1.57,-0.01],[1.58,0.02],[1.59,-0.04],[1.6,0.01],[1.61,0.03],[1.62,-0.02],[1.63,0.01],[1.64,0.04],[1.65,-0.01],[1.66,0.02],[1.67,0],[1.68,0.03],[1.69,-0.02],[1.7,0.01],[1.71,0.02],[1.72,-0.01],[1.74,0.01],[1.77,0.02],[1.79,0],[1.47,0.05],[1.5,-0.05],[1.53,-0.04],[1.56,0.06],[1.59,0.05],[1.62,0.06],[1.65,-0.05],[1.68,0.05],[1.71,-0.04],[1.48,-0.06],[1.51,0.06],[1.55,-0.07],[1.58,-0.06],[1.6,0.07],
  [0.925,0.015],[0.945,-0.025],[0.965,0.035],[0.985,-0.015],[1.005,0.025],[1.025,-0.035],[1.045,0.015],[1.065,-0.015],[1.085,0.035],[1.105,-0.025],[1.125,0.015],[1.145,-0.035],[1.165,0.025],[1.185,-0.015],[1.205,0.035],[1.225,-0.025],[1.245,0.015],[1.265,-0.035],[1.285,0.025],[1.305,-0.015],[1.325,0.035],[1.345,-0.025],[1.365,0.015],[1.385,-0.015],[1.405,0.025],[1.425,-0.005],[0.935,-0.045],[0.975,0.055],[1.015,-0.055],[1.055,0.055],[1.095,-0.065],[1.135,0.055],[1.175,-0.055],[1.215,0.065],[1.255,-0.065],[1.295,0.055],[1.335,-0.045],[1.375,0.045],[1.415,-0.045],[0.955,0.005],[0.995,0.005],[1.035,0.005],[1.075,0.005],[1.115,0.005],[1.155,-0.005],[1.195,0.005],[1.235,-0.005],[1.275,0.005],[1.315,0.005],[1.355,-0.005],[1.395,0.005],[1.445,0.015],[1.465,-0.015],[1.515,0.015],[1.545,-0.005],[1.575,0.025],[1.635,-0.025],[1.675,0.015],
];

// Swing time: values are quantised, so the core is read row by row (difference rows, mean positions)
const swingRowDiff = [0.083, 0.067, 0.05, 0.033, 0.017, 0, -0.017, -0.033, -0.05, -0.067, -0.083];
const swingRowMeans = [
  [0.292, 0.342, 0.375, 0.392, 0.408, 0.425, 0.442, 0.458],
  [0.25, 0.283, 0.3, 0.35, 0.367, 0.383, 0.4, 0.417, 0.433, 0.45, 0.467, 0.5],
  [0.275, 0.292, 0.308, 0.325, 0.342, 0.358, 0.375, 0.392, 0.408, 0.425, 0.442, 0.458, 0.475, 0.508, 0.525, 0.542],
  [0.233, 0.267, 0.283, 0.3, 0.317, 0.333, 0.35, 0.367, 0.383, 0.4, 0.417, 0.433, 0.45, 0.467, 0.483, 0.5, 0.517, 0.533, 0.55],
  [0.225, 0.242, 0.258, 0.275, 0.292, 0.308, 0.325, 0.342, 0.358, 0.375, 0.392, 0.408, 0.425, 0.442, 0.458, 0.475, 0.492, 0.508, 0.525, 0.542, 0.558],
  [0.217, 0.233, 0.25, 0.267, 0.283, 0.3, 0.317, 0.333, 0.35, 0.367, 0.383, 0.4, 0.417, 0.433, 0.45, 0.467, 0.483, 0.5, 0.517, 0.533, 0.55, 0.567],
  [0.208, 0.225, 0.242, 0.258, 0.275, 0.292, 0.308, 0.325, 0.342, 0.358, 0.375, 0.392, 0.408, 0.425, 0.442, 0.458, 0.475, 0.508, 0.558],
  [0.233, 0.25, 0.267, 0.283, 0.3, 0.317, 0.333, 0.35, 0.367, 0.383, 0.4, 0.417, 0.433, 0.467, 0.483],
  [0.242, 0.258, 0.275, 0.292, 0.308, 0.325, 0.342, 0.358, 0.375, 0.392, 0.408],
  [0.25, 0.267, 0.283, 0.3, 0.317, 0.333, 0.35, 0.383],
  [0.292, 0.325, 0.358],
];
const swingOutlierPts = [
  [0.665,0.765],[0.6,0.69],[0.37,0.17],[0.365,0.12],[0.525,0.13],[0.565,0.105],[0.255,0.1],[0.235,0.095],[0.47,0.095],[0.465,0.09],[0.53,0.1],[0.49,0.075],[0.185,0.04],[0.2,0.03],[0.215,0.02],[0.6,0.03],[0.605,0.02],[0.62,-0.01],[0.59,0.02],[0.155,-0.065],[0.145,-0.275],[0.215,-0.27],[0.29,-0.2],[0.23,-0.13],[0.26,-0.09],[0.35,-0.1],[0.37,-0.13],[0.395,-0.13],[0.365,-0.115],[0.445,-0.09],[0.495,-0.125],[0.49,-0.07],[0.305,-0.1],[0.275,-0.08],[0.285,-0.1],[0.54,-0.03],[0.55,-0.03],[0.565,-0.025],[0.205,-0.03],[0.215,-0.045],[0.225,-0.055],[0.235,-0.07],[0.42,-0.07],[0.33,-0.09],
];

const stanceTimePts = [
  [1.31,0.49],[1.2,0.4],[1.21,0.42],[1.18,0.36],[1.08,0.38],[1.06,0.32],[0.83,0.21],[0.96,0.19],[0.97,0.16],[0.95,0.16],[0.99,0.21],[1.01,0.14],[0.78,0.15],[1.21,0.12],[1.3,0.12],[1.39,0.15],[1.43,0.05],[1.44,0.01],[1.65,0],[1.27,0.07],[1.27,0.05],[0.55,-0.13],[0.6,-0.14],[0.57,-0.03],[0.57,0.02],[0.61,-0.02],[0.71,-0.21],[0.74,-0.19],[0.74,-0.17],[0.7,-0.11],[0.71,-0.13],[0.76,-0.12],[0.89,-0.47],[0.95,-0.29],[0.96,-0.19],[0.99,-0.24],[1,-0.17],[0.98,-0.13],[1.03,-0.12],[1.02,-0.13],[1.06,-0.19],[1.08,-0.37],[1.09,-0.25],[1.13,-0.46],[1.14,-0.2],[1.16,-0.53],[1.23,-0.51],[1.19,-0.27],[1.12,-0.12],[1.17,-0.13],[1.25,-0.09],[1.2,-0.05],[1.39,-0.18],[1.34,-0.08],[1.56,-1.09],[1.36,-0.02],[1.37,-0.03],[0.93,0.11],[0.88,-0.13],[1.05,-0.07],[1.28,-0.05],
  [0.61,0.01],[0.62,-0.03],[0.63,0.05],[0.64,-0.01],[0.65,0.03],[0.66,-0.05],[0.67,0.07],[0.68,0],[0.69,-0.04],[0.7,0.04],[0.62,0.09],[0.63,-0.06],[0.64,0.04],[0.65,-0.03],[0.66,0.02],[0.67,-0.07],[0.68,0.06],[0.69,0.02],[0.7,-0.08],[0.61,-0.05],[0.63,0.01],[0.65,0.08],[0.67,-0.02],[0.69,0.09],[0.64,-0.08],[0.66,0.05],[0.68,-0.05],[0.7,0.01],[0.62,0.02],[0.66,-0.01],[0.6,-0.03],[0.68,0.11],[0.7,-0.02],[0.63,0.1],[0.67,0.03],
  [0.71,0.02],[0.72,-0.02],[0.73,0.06],[0.74,-0.04],[0.75,0.04],[0.76,0],[0.77,0.08],[0.78,-0.06],[0.79,0.03],[0.8,-0.01],[0.71,-0.06],[0.72,0.05],[0.73,-0.03],[0.74,0.09],[0.75,-0.07],[0.76,0.06],[0.77,-0.02],[0.78,0.01],[0.79,-0.05],[0.8,0.07],[0.71,0.08],[0.72,-0.09],[0.73,0.01],[0.74,0.02],[0.75,0.1],[0.76,-0.04],[0.77,0.03],[0.78,0.09],[0.79,0.11],[0.8,-0.08],[0.72,0.12],[0.76,0.12],[0.7,0.06],[0.74,-0.01],[0.78,0.04],[0.73,-0.1],[0.77,-0.09],[0.75,0.01],[0.79,0],
  [0.81,0.01],[0.82,-0.03],[0.83,0.05],[0.84,-0.05],[0.85,0.03],[0.86,0],[0.87,0.07],[0.88,-0.07],[0.89,0.02],[0.9,-0.02],[0.81,-0.07],[0.82,0.08],[0.83,-0.01],[0.84,0.09],[0.85,-0.09],[0.86,0.05],[0.87,-0.04],[0.88,0.03],[0.89,-0.06],[0.9,0.06],[0.81,0.11],[0.83,0.1],[0.85,0.06],[0.87,0.01],[0.89,0.09],[0.82,0.01],[0.84,0.02],[0.86,-0.11],[0.88,0.1],[0.9,-0.1],[0.83,-0.12],[0.87,-0.1],[0.8,0.04],[0.85,-0.02],[0.89,-0.01],
  [0.91,0.01],[0.92,-0.03],[0.93,0.05],[0.94,-0.06],[0.95,0.03],[0.96,0],[0.97,0.07],[0.98,-0.02],[0.99,0.04],[1,-0.05],[0.91,0.08],[0.92,0.04],[0.93,-0.08],[0.94,0.1],[0.95,-0.03],[0.96,0.06],[0.97,-0.09],[0.98,0.09],[0.99,-0.01],[1,0.02],[0.92,-0.12],[0.96,-0.12],[0.98,0.05],[0.93,0.01],[0.97,0.02],[0.99,0.1],[0.95,0.12],[0.91,-0.05],
  [1.01,0.01],[1.02,-0.04],[1.03,0.04],[1.04,-0.01],[1.05,0.06],[1.06,-0.06],[1.07,0.02],[1.08,-0.02],[1.09,0.07],[1.1,0],[1.11,-0.05],[1.12,0.04],[1.13,-0.02],[1.14,0.02],[1.15,0.07],[1.16,-0.04],[1.17,0.01],[1.18,0.05],[1.19,-0.03],[1.2,0.01],[1.21,0.03],[1.22,-0.02],[1.23,0.02],[1.24,0.06],[1.25,-0.04],[1.26,0.01],[1.27,0.09],[1.28,-0.02],[1.29,0.04],[1.3,0],[1.31,-0.03],[1.32,0.02],[1.33,0.06],[1.34,-0.01],[1.35,0.03],[1.36,0],[1.37,0.03],[1.38,-0.03],[1.02,0.08],[1.04,0.05],[1.06,0.03],[1.08,0.08],[1.1,-0.08],[1.12,0.1],[1.14,-0.07],[1.16,0.05],[1.2,-0.08],[1.24,-0.02],[1.28,0.06],[1.32,-0.05],[1.36,0.05],[1.03,-0.1],[1.07,-0.04],[1.11,0.03],[1.05,0.01],[1.09,-0.02],[1.13,0.06],[1.17,0.08],
  [0.615,0.025],[0.625,-0.015],[0.635,0.035],[0.645,-0.045],[0.655,0.015],[0.665,0.045],[0.675,-0.035],[0.685,0.025],[0.695,-0.015],[0.705,0.055],[0.715,-0.025],[0.725,0.035],[0.735,-0.055],[0.745,0.015],[0.755,-0.015],[0.765,0.045],[0.775,-0.035],[0.785,0.025],[0.795,0.065],[0.805,-0.025],[0.815,0.035],[0.825,-0.055],[0.835,0.015],[0.845,0.055],[0.855,-0.035],[0.865,0.025],[0.875,-0.015],[0.885,0.045],[0.895,-0.035],[0.905,0.025],[0.915,-0.015],[0.925,0.035],[0.935,-0.035],[0.945,0.015],[0.625,0.065],[0.655,-0.065],[0.685,0.075],[0.715,-0.075],[0.745,0.065],[0.775,-0.065],[0.805,0.085],[0.835,-0.085],[0.865,0.085],[0.895,-0.075],[0.645,0.005],[0.675,0.005],[0.705,-0.005],[0.735,0.005],[0.765,-0.005],[0.795,0.005],[0.825,0.005],[0.855,0.005],[0.885,-0.005],[0.665,-0.015],[0.725,-0.035],[0.785,-0.045],[0.845,-0.015],[0.605,0.045],[0.585,-0.015],[0.595,0.015],
];

const swingTimePts = [
  ...swingOutlierPts,
  ...swingRowDiff.flatMap((d, k) => swingRowMeans[k].map((m) => [m, d])),
];

const panelPoints = [
  strideLengthPts, strideWidthPts, footAnglePts, heelContactPts,
  toeContactPts, strideTimePts, swingTimePts, stanceTimePts,
];

// ---------------- LAYOUT ----------------
const COL_L = [62, 441];
const COL_R = [378, 755];
const ROW_T = [21, 383, 744, 1106];
const ROW_B = [322, 685, 1046, 1408];
const AXIS_W = 62;
const POINT_COLOR = "#2b7a8e";
const TICK_FONT = "Liberation Serif";

function fmt(v: number, d: number) {
  const s = Math.abs(v).toFixed(d);
  return (v < -1e-9 ? "\u2212" : "") + s;
}

function Panel({ i }: { i: number }) {
  const ref = useRef<HTMLCanvasElement | null>(null);
  const c = i % 2;
  const r = Math.floor(i / 2);
  const L = COL_L[c], R = COL_R[c], T = ROW_T[r], B = ROW_B[r];
  const padRight = c === 0 ? 14 : 764 - R;
  const padTop = Math.min(30, T);
  const bottomSpace = r === 3 ? 50 : 28;
  const width = R - L + AXIS_W + padRight;
  const height = B - T + padTop + bottomSpace;
  const left = L - AXIS_W;
  const top = T - padTop;

  useEffect(() => {
    const canvas = ref.current!;
    const dec = tickDecimals[i];
    const deco = {
      id: "deco" + i,
      afterDraw(chart: any) {
        const ctx = chart.ctx as CanvasRenderingContext2D;
        const a = chart.chartArea;
        const xs = chart.scales.x;
        const ys = chart.scales.y;
        ctx.save();
        ctx.strokeStyle = "#000";
        ctx.lineWidth = 1;
        ctx.setLineDash([]);
        ctx.beginPath();
        for (const v of xTickValues[i]) {
          const px = Math.round(xs.getPixelForValue(v)) + 0.5;
          ctx.moveTo(px, a.bottom); ctx.lineTo(px, a.bottom - 5);
          ctx.moveTo(px, a.top); ctx.lineTo(px, a.top + 5);
        }
        for (const v of yTickValues[i]) {
          const py = Math.round(ys.getPixelForValue(v)) + 0.5;
          ctx.moveTo(a.left, py); ctx.lineTo(a.left + 5, py);
          ctx.moveTo(a.right, py); ctx.lineTo(a.right - 5, py);
        }
        ctx.stroke();
        ctx.lineWidth = 2;
        ctx.strokeRect(a.left, a.top, a.right - a.left, a.bottom - a.top);

        // statistics box
        const fs = 20;
        const nf = `${fs}px "${TICK_FONT}"`;
        const itf = `italic ${fs}px "${TICK_FONT}"`;
        const tokens: [string, boolean, number][] = [
          ["μ", true, 5], ["±", false, 5], ["σ", true, 6], ["=", false, 6],
          [meanLabel[i], false, 5], ["±", false, 5], [sdLabel[i], false, 5.5], [unitLabel[i], false, 0],
        ];
        let tw = 0;
        for (const [t, it, g] of tokens) {
          ctx.font = it ? itf : nf;
          tw += ctx.measureText(t).width + g;
        }
        const bx = a.left + 10, by = a.top + 5, bh = 27, bw = tw + 15;
        ctx.beginPath();
        (ctx as any).roundRect(bx, by, bw, bh, 5);
        ctx.fillStyle = "#fff";
        ctx.fill();
        ctx.lineWidth = 1.5;
        ctx.strokeStyle = "#000";
        ctx.stroke();
        ctx.fillStyle = "#000";
        ctx.textAlign = "left";
        ctx.textBaseline = "alphabetic";
        let tx = bx + 4;
        for (const [t, it, g] of tokens) {
          ctx.font = it ? itf : nf;
          ctx.fillText(t, tx, by + 20);
          tx += ctx.measureText(t).width + g;
        }

        // title
        ctx.font = `bold 16px "DejaVu Serif"`;
        ctx.textAlign = "center";
        ctx.fillText(panelTitles[i], (a.left + a.right) / 2, a.top - 7);

        // axis labels
        ctx.font = `18.5px "${TICK_FONT}"`;
        if (c === 0) {
          ctx.save();
          ctx.translate(12, (a.top + a.bottom) / 2 + 3);
          ctx.rotate(-Math.PI / 2);
          ctx.textBaseline = "middle";
          ctx.fillText("GAITRite - Model B", 0, 0);
          ctx.restore();
        }
        if (r === 3) {
          ctx.textBaseline = "alphabetic";
          ctx.fillText("(GAITRite + Model B)/2", (a.left + a.right) / 2 - 4, a.bottom + 39);
        }
        ctx.restore();
      },
    };

    const lineDs = (y: number, w: number, dash: number[]) => ({
      data: [{ x: xMin[i], y }, { x: xMax[i], y }],
      showLine: true,
      borderColor: "#000",
      borderWidth: w,
      borderDash: dash,
      pointRadius: 0,
      order: 0,
    });

    const chart = new Chart(canvas, {
      type: "scatter",
      data: {
        datasets: [
          lineDs(meanDiff[i], 3, []),
          lineDs(upperLoA[i], 1.5, [10, 6]),
          lineDs(lowerLoA[i], 1.5, [10, 6]),
          {
            data: panelPoints[i].map(([x, y]) => ({ x, y })),
            pointRadius: 2,
            pointBackgroundColor: POINT_COLOR,
            pointBorderWidth: 0,
            order: 1,
          },
        ],
      } as any,
      options: {
        animation: false,
        responsive: false,
        devicePixelRatio: 1,
        events: [],
        layout: { padding: { left: 0, right: padRight, top: padTop, bottom: 0 } },
        plugins: { legend: { display: false }, tooltip: { enabled: false }, title: { display: false } },
        scales: {
          x: {
            type: "linear",
            min: xMin[i],
            max: xMax[i],
            afterBuildTicks: (s: any) => { s.ticks = xTickValues[i].map((v) => ({ value: v })); },
            afterFit: (s: any) => { s.height = bottomSpace; s.paddingLeft = 0; s.paddingRight = 0; },
            ticks: {
              callback: (v: any) => fmt(Number(v), dec),
              font: { family: TICK_FONT, size: 15 },
              color: "#000",
              padding: 4,
              maxRotation: 0,
              autoSkip: false,
            },
            grid: { color: "rgba(0,0,0,0.8)", lineWidth: 1, drawTicks: false },
            border: { display: false, dash: [1, 2] },
          },
          y: {
            type: "linear",
            min: yMin[i],
            max: yMax[i],
            afterBuildTicks: (s: any) => { s.ticks = yTickValues[i].map((v) => ({ value: v })); },
            afterFit: (s: any) => { s.width = AXIS_W; s.paddingTop = 0; s.paddingBottom = 0; },
            ticks: {
              callback: (v: any) => fmt(Number(v), dec),
              font: { family: TICK_FONT, size: 15 },
              color: "#000",
              padding: 7,
              autoSkip: false,
            },
            grid: { color: "rgba(0,0,0,0.8)", lineWidth: 1, drawTicks: false },
            border: { display: false, dash: [1, 2] },
          },
        },
      } as any,
      plugins: [deco],
    });
    return () => chart.destroy();
  }, []);

  return (
    <canvas
      ref={ref}
      width={width}
      height={height}
      style={{ position: "absolute", left, top, width, height }}
    />
  );
}

export default function App() {
  return (
    <div
      style={{
        position: "absolute",
        left: 0,
        top: 0,
        width: 764,
        height: 1454,
        overflow: "hidden",
        background: "#fff",
      }}
    >
      {[0, 1, 2, 3, 4, 5, 6, 7].map((i) => (
        <Panel key={i} i={i} />
      ))}
    </div>
  );
}
